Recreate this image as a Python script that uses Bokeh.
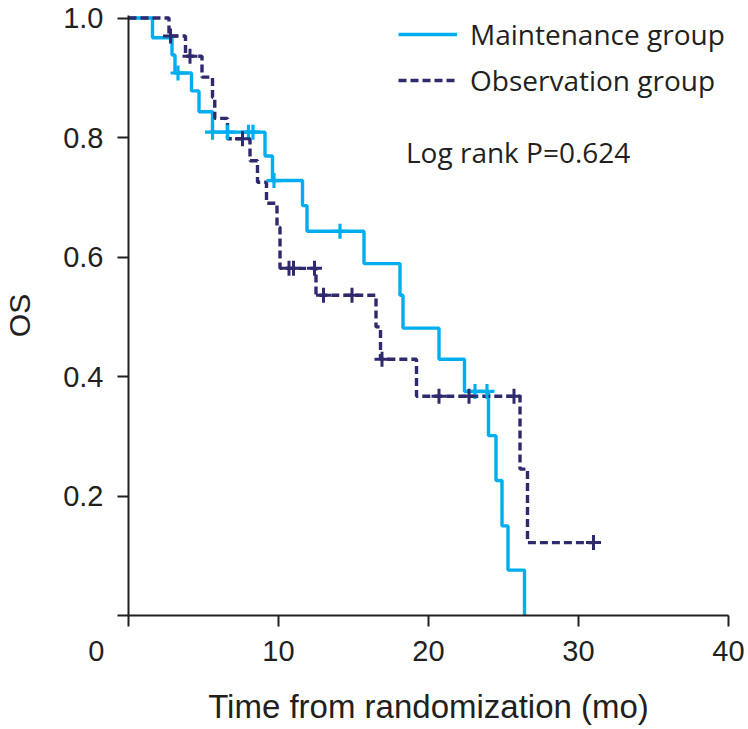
from bokeh.plotting import figure
from bokeh.models import Range1d, FixedTicker, Legend, LegendItem, Label
from bokeh.embed import file_html
from bokeh.resources import INLINE

# ---- data ----
maint_time = [0, 1.6, 2.9, 3.1, 4.2, 4.7, 5.6, 9.1, 9.6, 11.6, 11.9, 15.7, 18.1, 18.3,
              20.7, 22.4, 24.0, 24.5, 24.9, 25.3, 26.4]
maint_surv = [1.0, 0.967, 0.938, 0.908, 0.878, 0.843, 0.809, 0.769, 0.728, 0.686, 0.643,
              0.589, 0.536, 0.481, 0.429, 0.375, 0.301, 0.226, 0.150, 0.076, 0.0]
maint_cens_time = [3.3, 5.6, 6.6, 8.0, 8.3, 9.7, 14.1, 23.1, 23.9]
maint_cens_surv = [0.908, 0.809, 0.809, 0.809, 0.809, 0.728, 0.643, 0.375, 0.375]

obs_time = [0, 2.7, 3.8, 4.9, 5.6, 5.75, 6.6, 8.1, 8.6, 9.2, 9.9, 10.1, 12.5, 16.5,
            16.8, 19.2, 26.1, 26.6, 31.0]
obs_surv = [1.0, 0.970, 0.936, 0.901, 0.867, 0.832, 0.798, 0.761, 0.725, 0.690, 0.650,
            0.581, 0.536, 0.483, 0.429, 0.367, 0.245, 0.122, 0.122]
obs_cens_time = [2.8, 4.1, 7.6, 10.7, 11.0, 12.4, 13.0, 14.9, 16.9, 20.7, 22.7, 25.7, 31.0]
obs_cens_surv = [0.970, 0.936, 0.798, 0.581, 0.581, 0.581, 0.536, 0.536, 0.429, 0.367,
                 0.367, 0.367, 0.122]

x_ticks = [0, 10, 20, 30, 40]
y_ticks = [0, 0.2, 0.4, 0.6, 0.8, 1.0]
y_tick_labels = ["", "0.2", "0.4", "0.6", "0.8", "1.0"]

series_names = ["Maintenance group", "Observation group"]
annotation_text = "Log rank P=0.624"

CYAN = "#00aeef"
NAVY = "#2f2a6e"
INK = "#231f20"
TICK_FONT = "Liberation Sans"

p = figure(width=748, height=729, output_backend="svg", toolbar_location=None,
           x_range=Range1d(0, 40), y_range=Range1d(0, 1.0042),
           min_border_left=128, min_border_right=20, min_border_top=15,
           min_border_bottom=114)
p.outline_line_color = None
p.grid.visible = False
p.background_fill_color = "white"
p.border_fill_color = "white"

# curves
r_m = p.step(maint_time, maint_surv, mode="after", line_color=CYAN, line_width=3.4)
r_o = p.step(obs_time, obs_surv, mode="after", line_color=NAVY, line_width=3.4,
             line_dash="8 4")
p.scatter(maint_cens_time, maint_cens_surv, marker="cross", size=15, line_width=3.2,
          line_color=CYAN)
p.scatter(obs_cens_time, obs_cens_surv, marker="cross", size=15, line_width=3,
          line_color=NAVY)

# axes
for ax in (p.xaxis[0], p.yaxis[0]):
    ax.axis_line_width = 2
    ax.axis_line_color = INK
    ax.major_tick_line_width = 2
    ax.major_tick_line_color = INK
    ax.major_tick_out = 11
    ax.major_tick_in = 0
    ax.minor_tick_line_color = None
    ax.major_label_text_font = TICK_FONT
    ax.major_label_text_font_size = "29px"
    ax.major_label_text_color = INK
    ax.axis_label_text_font = TICK_FONT
    ax.axis_label_text_font_style = "normal"
    ax.axis_label_text_color = INK

p.xaxis.ticker = FixedTicker(ticks=x_ticks)
# the reference draws its "0" shifted to the left of the origin tick
p.xaxis.major_label_overrides = {0: str(x_ticks[0]) + "\u00a0" * 8}
p.xaxis.major_label_standoff = 8
p.xaxis.axis_label = "Time from randomization (mo)"
p.xaxis.axis_label_text_font_size = "33px"
p.xaxis.axis_label_standoff = 18

p.yaxis.ticker = FixedTicker(ticks=y_ticks)
p.yaxis.major_label_overrides = dict(zip(y_ticks, y_tick_labels))
p.yaxis.major_label_standoff = 14
p.yaxis.axis_label = "OS"
p.yaxis.axis_label_text_font_size = "30px"
p.yaxis.axis_label_standoff = 24

# legend
legend = Legend(items=[LegendItem(label=series_names[0], renderers=[r_m]),
                       LegendItem(label=series_names[1], renderers=[r_o])],
                location=(270, 516), orientation="vertical",
                padding=0, margin=0, spacing=8, glyph_width=59, glyph_height=38,
                label_height=38, label_standoff=13,
                label_text_font="Open Sans", label_text_font_size="28px",
                label_text_color=INK, border_line_color=None,
                background_fill_alpha=0)
p.add_layout(legend)

p.add_layout(Label(x=18.5, y=0.775, text=annotation_text, text_font="Open Sans",
                   text_font_size="28px", text_color=INK, text_baseline="middle"))

open("out.html", "w").write(file_html(p, INLINE))
